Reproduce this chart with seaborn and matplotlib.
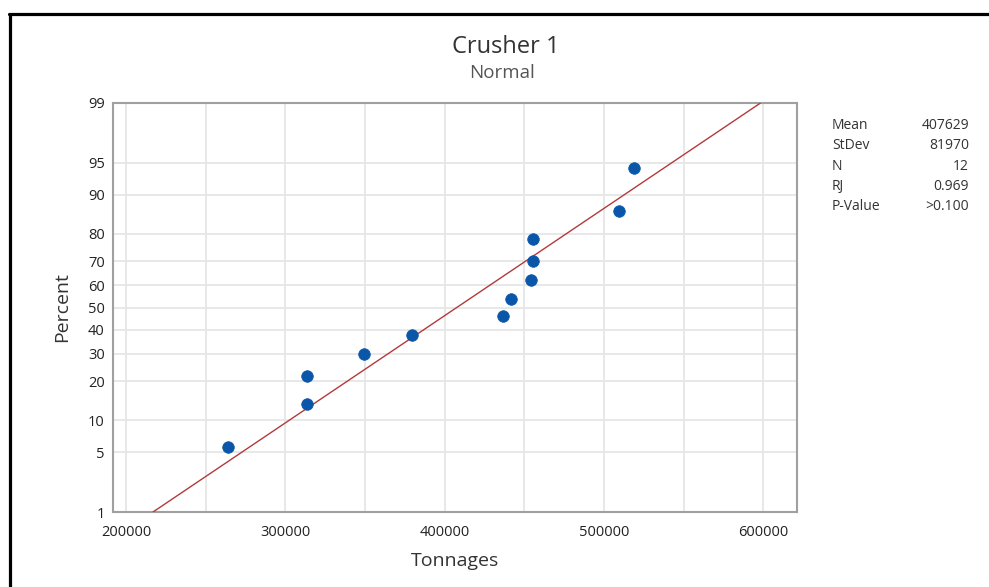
import numpy as np
import pandas as pd
import seaborn as sns
import matplotlib
matplotlib.use("Agg")
import matplotlib.pyplot as plt
from matplotlib.lines import Line2D
from matplotlib.ticker import FixedLocator, MultipleLocator
from statistics import NormalDist

# ---- data ----
tonnages = [264200, 313800, 313800, 349600, 379700, 436500,
            441500, 454200, 455500, 455500, 509700, 519100]
percent = [5.6, 13.7, 21.8, 29.8, 37.9, 46.0,
           54.0, 62.1, 70.2, 78.2, 86.3, 94.4]
stat_names = ["Mean", "StDev", "N", "RJ", "P-Value"]
stat_values = ["407629", "81970", "12", "0.969", ">0.100"]
fit_mean = 407629
fit_sd = 81970
y_ticks = [1, 5, 10, 20, 30, 40, 50, 60, 70, 80, 90, 95, 99]
x_ticks = [200000, 300000, 400000, 500000, 600000]

df = pd.DataFrame({"Tonnages": tonnages, "Percent": percent})

sns.set_theme(style="white")
plt.rcParams['font.family'] = ['Open Sans', 'DejaVu Sans']

nd = NormalDist()
def fwd(p):
    p = np.clip(np.asarray(p, dtype=float) / 100.0, 1e-9, 1 - 1e-9)
    return np.array([nd.inv_cdf(v) for v in p.ravel()]).reshape(p.shape)
def inv(z):
    z = np.asarray(z, dtype=float)
    return np.array([nd.cdf(v) * 100 for v in z.ravel()]).reshape(z.shape)

fig = plt.figure(figsize=(9.89, 5.87), dpi=100)
ax = fig.add_axes([113/989, 1 - 512/587, (797-113)/989, (512-103)/587])
ax.set_yscale("function", functions=(fwd, inv))

# fitted line
zline = np.array([fwd(1.0), fwd(99.0)]).ravel()
ax.plot([fit_mean + z * fit_sd for z in zline], [1, 99],
        color="#B23A3A", lw=1.0, zorder=3)

sns.scatterplot(data=df, x="Tonnages", y="Percent", ax=ax, s=70,
                color="#0A56A8", edgecolor="#0A56A8", linewidth=0.5, zorder=4)

ax.set_xlim(191840, 621220)
ax.set_ylim(1, 99)
ax.xaxis.set_major_locator(FixedLocator(x_ticks))
ax.xaxis.set_minor_locator(MultipleLocator(50000))
ax.yaxis.set_major_locator(FixedLocator(y_ticks))
ax.yaxis.set_minor_locator(FixedLocator([]))
ax.set_xticklabels([str(v) for v in x_ticks])
ax.set_yticklabels([str(v) for v in y_ticks])
ax.grid(True, which="both", color="#E6E6E6", lw=1.3, zorder=0)
ax.set_axisbelow(True)
ax.tick_params(axis="both", which="major", direction="out", length=4,
               width=1, color="#999999", labelsize=10.5, labelcolor="#222222", pad=2)
ax.tick_params(axis="x", which="major", pad=5)
ax.tick_params(axis="both", which="minor", length=0)
for s in ax.spines.values():
    s.set_color("#A0A0A0")
    s.set_linewidth(1.5)

ax.set_xlabel("Tonnages", fontsize=14, color="#333333")
ax.set_ylabel("Percent", fontsize=14, color="#333333")
ax.xaxis.set_label_coords(0.5, -(561 - 512) / 409)
ax.yaxis.set_label_coords(-(113 - 62) / 684, 0.5)
ax.xaxis.label.set_va("center")
ax.yaxis.label.set_va("center")

fig.text(506/989, 1 - 47/587, "Crusher 1", ha="center", va="center",
         fontsize=17, color="#333333")
fig.text(502/989, 1 - 73.5/587, "Normal", ha="center", va="center",
         fontsize=13.5, color="#555555")

for i, (n, v) in enumerate(zip(stat_names, stat_values)):
    yy = 1 - (125 + i * 20.5) / 587
    fig.text(832/989, yy, n, ha="left", va="center", fontsize=10, color="#333333")
    fig.text(969/989, yy, v, ha="right", va="center", fontsize=10, color="#333333")

# outer frame (top and left)
fig.add_artist(Line2D([9/989, 1.0], [1 - 14/587, 1 - 14/587],
                      transform=fig.transFigure, color="black", lw=2.3))
fig.add_artist(Line2D([10/989, 10/989], [0, 1 - 14/587],
                      transform=fig.transFigure, color="black", lw=2.3))

fig.savefig("out.png", dpi=100)
